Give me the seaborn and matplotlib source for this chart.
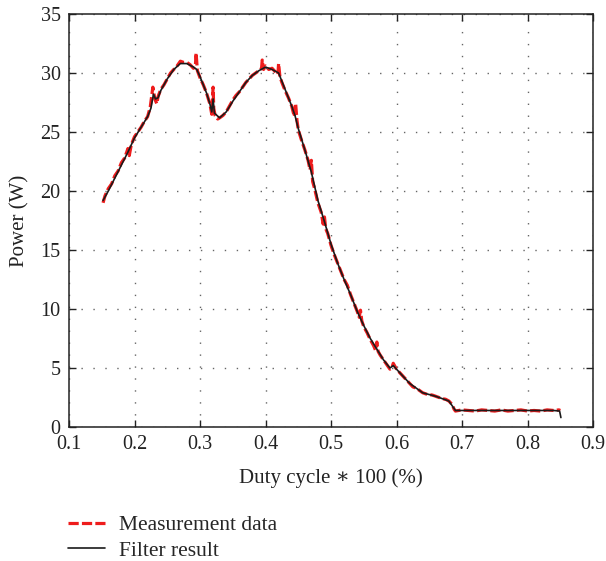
import numpy as np
import pandas as pd
import matplotlib
matplotlib.use("Agg")
import matplotlib.pyplot as plt
import seaborn as sns

# ---- data ----
meas_x = [0.152, 0.155, 0.16, 0.165, 0.17, 0.175, 0.18, 0.185, 0.19, 0.192,
          0.195, 0.20, 0.205, 0.21, 0.215, 0.22, 0.224, 0.228, 0.229, 0.231,
          0.234, 0.236, 0.24, 0.245, 0.25, 0.255, 0.26, 0.265, 0.27, 0.275,
          0.28, 0.285, 0.29, 0.293, 0.294, 0.296, 0.30, 0.305, 0.31, 0.315,
          0.318, 0.320, 0.321, 0.323, 0.327, 0.33, 0.335, 0.34, 0.345, 0.35,
          0.355, 0.36, 0.365, 0.37, 0.375, 0.38, 0.385, 0.39, 0.394, 0.395,
          0.397, 0.40, 0.405, 0.41, 0.415, 0.419, 0.420, 0.422, 0.425, 0.43,
          0.435, 0.44, 0.444, 0.446, 0.448, 0.45, 0.455, 0.46, 0.465, 0.468,
          0.470, 0.472, 0.475, 0.48, 0.485, 0.488, 0.490, 0.492, 0.495, 0.50,
          0.505, 0.51, 0.515, 0.52, 0.525, 0.53, 0.535, 0.54, 0.543, 0.545,
          0.547, 0.55, 0.555, 0.56, 0.565, 0.568, 0.570, 0.572, 0.575, 0.58,
          0.585, 0.59, 0.593, 0.595, 0.60, 0.605, 0.61, 0.615, 0.62, 0.625,
          0.63, 0.635, 0.64, 0.645, 0.65, 0.655, 0.66, 0.665, 0.67, 0.675,
          0.68, 0.685, 0.688, 0.69, 0.70, 0.71, 0.72, 0.73, 0.74, 0.75,
          0.76, 0.77, 0.78, 0.79, 0.80, 0.81, 0.82, 0.83, 0.84, 0.848, 0.85]
meas_p = [19.0, 19.6, 20.2, 20.6, 21.3, 21.7, 22.4, 22.8, 23.6, 23.0,
          23.9, 24.6, 25.0, 25.4, 25.9, 26.3, 27.1, 28.8, 28.5, 27.8,
          27.4, 28.0, 28.6, 29.0, 29.5, 30.0, 30.3, 30.6, 31.0, 30.9,
          30.9, 30.7, 30.4, 30.6, 31.7, 30.2, 29.6, 29.0, 28.3, 27.4,
          26.5, 28.8, 27.0, 26.4, 26.1, 26.2, 26.4, 26.7, 27.2, 27.7,
          28.1, 28.4, 28.8, 29.2, 29.5, 29.8, 30.0, 30.2, 30.4, 31.1,
          30.3, 30.6, 30.3, 30.4, 30.1, 29.9, 30.8, 29.7, 29.2, 28.5,
          27.9, 27.2, 26.3, 27.4, 26.0, 25.2, 24.3, 23.5, 22.6, 21.8,
          22.6, 20.8, 20.2, 19.0, 18.2, 17.2, 17.8, 16.8, 16.4, 15.4,
          14.6, 13.9, 13.2, 12.5, 12.0, 11.2, 10.5, 9.8, 9.3, 9.9,
          9.0, 8.5, 8.0, 7.4, 6.9, 6.5, 7.2, 6.4, 6.1, 5.7,
          5.3, 4.9, 5.0, 5.4, 4.9, 4.6, 4.3, 4.0, 3.7, 3.4,
          3.3, 3.1, 2.9, 2.8, 2.75, 2.7, 2.6, 2.5, 2.4, 2.35,
          2.2, 1.9, 1.5, 1.35, 1.45, 1.4, 1.35, 1.45, 1.4, 1.35,
          1.45, 1.35, 1.4, 1.45, 1.35, 1.4, 1.35, 1.45, 1.4, 1.45, 1.4]

filt_x = [0.152, 0.16, 0.17, 0.18, 0.19, 0.20, 0.21, 0.22, 0.225, 0.229,
          0.232, 0.236, 0.24, 0.25, 0.26, 0.27, 0.28, 0.29, 0.295, 0.30,
          0.31, 0.315, 0.318, 0.320, 0.322, 0.33, 0.34, 0.35, 0.36, 0.37,
          0.38, 0.39, 0.40, 0.41, 0.42, 0.43, 0.44, 0.445, 0.45, 0.46,
          0.47, 0.48, 0.49, 0.50, 0.51, 0.52, 0.53, 0.54, 0.545, 0.55,
          0.56, 0.57, 0.58, 0.59, 0.595, 0.60, 0.61, 0.62, 0.63, 0.64,
          0.65, 0.66, 0.67, 0.68, 0.685, 0.69, 0.72, 0.75, 0.78, 0.81,
          0.84, 0.849, 0.851]
filt_p = [19.2, 20.0, 21.1, 22.2, 23.3, 24.5, 25.4, 26.3, 27.0, 28.2,
          27.8, 27.9, 28.5, 29.5, 30.3, 30.8, 30.8, 30.5, 30.3, 29.7,
          28.3, 27.4, 26.7, 27.8, 26.6, 26.2, 26.7, 27.6, 28.4, 29.2,
          29.8, 30.2, 30.5, 30.3, 30.0, 28.6, 27.2, 26.4, 25.3, 23.5,
          21.6, 19.2, 17.4, 15.5, 13.9, 12.5, 11.2, 9.8, 9.2, 8.6,
          7.5, 6.6, 5.7, 5.0, 5.2, 4.9, 4.3, 3.7, 3.3, 2.9,
          2.75, 2.6, 2.4, 2.2, 1.8, 1.4, 1.4, 1.4, 1.4, 1.4,
          1.4, 1.35, 0.8]

x_ticks = [0.1, 0.2, 0.3, 0.4, 0.5, 0.6, 0.7, 0.8, 0.9]
y_ticks = [0, 5, 10, 15, 20, 25, 30, 35]
series_names = ["Measurement data", "Filter result"]

# ---- style ----
sns.set_style("ticks")
plt.rcParams["font.family"] = ["Liberation Serif", "DejaVu Serif"]

fig = plt.figure(figsize=(6.06, 5.61), dpi=100)
ax = fig.add_axes([69 / 606, 1 - 427 / 561, 524 / 606, 413 / 561])

df_m = pd.DataFrame({"x": meas_x, "p": meas_p})
df_f = pd.DataFrame({"x": filt_x, "p": filt_p})

sns.lineplot(data=df_m, x="x", y="p", ax=ax, color="#ee1c1c", lw=2.3,
             estimator=None, sort=False, label=series_names[0])
ax.lines[-1].set_dashes([3.2, 1.0])
sns.lineplot(data=df_f, x="x", y="p", ax=ax, color="#1a1a1a", lw=1.2,
             estimator=None, sort=False, label=series_names[1])

ax.set_xlim(0.1, 0.9)
ax.set_ylim(0, 35)
ax.set_xticks(x_ticks)
ax.set_yticks(y_ticks)
ax.set_xticklabels([f"{v:.1f}" for v in x_ticks])
ax.set_yticklabels([str(v) for v in y_ticks])

ax.grid(True, color="#666666", linestyle=(0, (1, 7.6)), lw=1.0)
for s in ax.spines.values():
    s.set_linewidth(1.1)
    s.set_color("#222222")
ax.tick_params(direction="in", length=5, width=1, top=True, right=True,
               labelsize=14.5, colors="#222222", pad=6)

ax.set_xlabel("Duty cycle \u2217 100 (%)", fontsize=15, color="#222222", labelpad=10)
ax.set_ylabel("Power (W)", fontsize=15, color="#222222", labelpad=8)

handles, labels = ax.get_legend_handles_labels()
ax.get_legend().remove()
fig.legend(handles, labels, loc="upper left", bbox_to_anchor=(0.098, 0.097),
           frameon=False, fontsize=15.5, handlelength=1.7, handletextpad=0.65,
           labelspacing=0.25, borderaxespad=0)

fig.savefig("out.png", dpi=100)
